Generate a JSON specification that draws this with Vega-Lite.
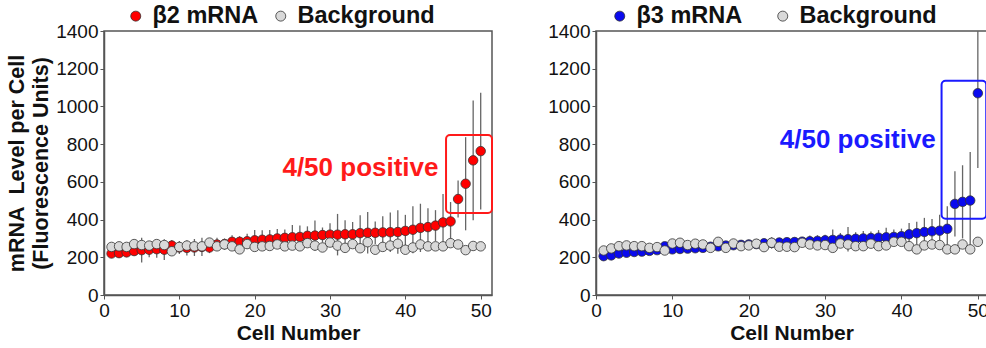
{
  "$schema": "https://vega.github.io/schema/vega-lite/v6.json",
  "padding": {"left": 5, "top": 3, "right": 0, "bottom": 0},
  "spacing": 52,
  "config": {
    "font": "Liberation Sans",
    "view": {"stroke": "#555", "strokeWidth": 1.5},
    "axis": {"grid": false, "domainColor": "#555", "domainWidth": 1.5, "tickColor": "#555", "tickSize": 4, "labelFontSize": 19, "labelColor": "#111", "labelPadding": 2, "labelOverlap": false, "labelFlush": false, "titleFontSize": 21, "titleFontWeight": "bold", "titleColor": "#111"},
    "axisY": {"tickCount": 7, "labelOverlap": false, "format": "d"},
    "legend": {"labelFontSize": 23.5, "labelFontWeight": "bold", "labelColor": "#111", "symbolSize": 100, "symbolStrokeColor": "#333", "symbolStrokeWidth": 0.8, "labelOffset": 5, "padding": 0}
  },
  "resolve": {"scale": {"fill": "independent"}, "legend": {"fill": "independent"}},
  "datasets": {
    "b2": [
      {"cell":1,"series":"β2 mRNA","value":220,"lo":200,"hi":240},
      {"cell":2,"series":"β2 mRNA","value":222,"lo":197,"hi":247},
      {"cell":3,"series":"β2 mRNA","value":226,"lo":206,"hi":246},
      {"cell":4,"series":"β2 mRNA","value":233,"lo":208,"hi":258},
      {"cell":5,"series":"β2 mRNA","value":238,"lo":173,"hi":303},
      {"cell":6,"series":"β2 mRNA","value":240,"lo":200,"hi":280},
      {"cell":7,"series":"β2 mRNA","value":243,"lo":198,"hi":288},
      {"cell":8,"series":"β2 mRNA","value":240,"lo":185,"hi":295},
      {"cell":9,"series":"β2 mRNA","value":262,"lo":232,"hi":292},
      {"cell":10,"series":"β2 mRNA","value":252,"lo":217,"hi":287},
      {"cell":11,"series":"β2 mRNA","value":250,"lo":210,"hi":290},
      {"cell":12,"series":"β2 mRNA","value":252,"lo":207,"hi":297},
      {"cell":13,"series":"β2 mRNA","value":255,"lo":207,"hi":303},
      {"cell":14,"series":"β2 mRNA","value":252,"lo":222,"hi":282},
      {"cell":15,"series":"β2 mRNA","value":268,"lo":233,"hi":303},
      {"cell":16,"series":"β2 mRNA","value":270,"lo":240,"hi":300},
      {"cell":17,"series":"β2 mRNA","value":282,"lo":247,"hi":317},
      {"cell":18,"series":"β2 mRNA","value":282,"lo":252,"hi":312},
      {"cell":19,"series":"β2 mRNA","value":285,"lo":245,"hi":325},
      {"cell":20,"series":"β2 mRNA","value":290,"lo":235,"hi":345},
      {"cell":21,"series":"β2 mRNA","value":293,"lo":243,"hi":343},
      {"cell":22,"series":"β2 mRNA","value":295,"lo":245,"hi":345},
      {"cell":23,"series":"β2 mRNA","value":300,"lo":250,"hi":350},
      {"cell":24,"series":"β2 mRNA","value":303,"lo":258,"hi":348},
      {"cell":25,"series":"β2 mRNA","value":306,"lo":241,"hi":371},
      {"cell":26,"series":"β2 mRNA","value":308,"lo":248,"hi":368},
      {"cell":27,"series":"β2 mRNA","value":314,"lo":264,"hi":364},
      {"cell":28,"series":"β2 mRNA","value":315,"lo":235,"hi":395},
      {"cell":29,"series":"β2 mRNA","value":318,"lo":278,"hi":358},
      {"cell":30,"series":"β2 mRNA","value":320,"lo":260,"hi":380},
      {"cell":31,"series":"β2 mRNA","value":320,"lo":210,"hi":430},
      {"cell":32,"series":"β2 mRNA","value":322,"lo":247,"hi":397},
      {"cell":33,"series":"β2 mRNA","value":322,"lo":257,"hi":387},
      {"cell":34,"series":"β2 mRNA","value":328,"lo":233,"hi":423},
      {"cell":35,"series":"β2 mRNA","value":330,"lo":220,"hi":440},
      {"cell":36,"series":"β2 mRNA","value":330,"lo":270,"hi":390},
      {"cell":37,"series":"β2 mRNA","value":332,"lo":247,"hi":417},
      {"cell":38,"series":"β2 mRNA","value":333,"lo":228,"hi":438},
      {"cell":39,"series":"β2 mRNA","value":334,"lo":219,"hi":449},
      {"cell":40,"series":"β2 mRNA","value":340,"lo":255,"hi":425},
      {"cell":41,"series":"β2 mRNA","value":346,"lo":221,"hi":471},
      {"cell":42,"series":"β2 mRNA","value":356,"lo":228,"hi":484},
      {"cell":43,"series":"β2 mRNA","value":360,"lo":260,"hi":460},
      {"cell":44,"series":"β2 mRNA","value":368,"lo":286,"hi":450},
      {"cell":45,"series":"β2 mRNA","value":385,"lo":235,"hi":535},
      {"cell":46,"series":"β2 mRNA","value":390,"lo":287,"hi":493},
      {"cell":47,"series":"β2 mRNA","value":509,"lo":411,"hi":607},
      {"cell":48,"series":"β2 mRNA","value":590,"lo":343,"hi":837},
      {"cell":49,"series":"β2 mRNA","value":714,"lo":396,"hi":1032},
      {"cell":50,"series":"β2 mRNA","value":763,"lo":454,"hi":1072},
      {"cell":1,"series":"Background","value":255},
      {"cell":2,"series":"Background","value":258},
      {"cell":3,"series":"Background","value":255},
      {"cell":4,"series":"Background","value":270},
      {"cell":5,"series":"Background","value":265},
      {"cell":6,"series":"Background","value":262},
      {"cell":7,"series":"Background","value":270},
      {"cell":8,"series":"Background","value":265},
      {"cell":9,"series":"Background","value":232},
      {"cell":10,"series":"Background","value":255},
      {"cell":11,"series":"Background","value":262},
      {"cell":12,"series":"Background","value":258},
      {"cell":13,"series":"Background","value":258},
      {"cell":14,"series":"Background","value":278},
      {"cell":15,"series":"Background","value":258},
      {"cell":16,"series":"Background","value":268},
      {"cell":17,"series":"Background","value":258},
      {"cell":18,"series":"Background","value":242},
      {"cell":19,"series":"Background","value":270},
      {"cell":20,"series":"Background","value":255},
      {"cell":21,"series":"Background","value":258},
      {"cell":22,"series":"Background","value":260},
      {"cell":23,"series":"Background","value":268},
      {"cell":24,"series":"Background","value":258},
      {"cell":25,"series":"Background","value":262},
      {"cell":26,"series":"Background","value":258},
      {"cell":27,"series":"Background","value":275},
      {"cell":28,"series":"Background","value":262},
      {"cell":29,"series":"Background","value":252},
      {"cell":30,"series":"Background","value":278},
      {"cell":31,"series":"Background","value":262},
      {"cell":32,"series":"Background","value":250},
      {"cell":33,"series":"Background","value":270},
      {"cell":34,"series":"Background","value":248},
      {"cell":35,"series":"Background","value":280},
      {"cell":36,"series":"Background","value":240},
      {"cell":37,"series":"Background","value":255},
      {"cell":38,"series":"Background","value":262},
      {"cell":39,"series":"Background","value":272},
      {"cell":40,"series":"Background","value":240},
      {"cell":41,"series":"Background","value":252},
      {"cell":42,"series":"Background","value":268},
      {"cell":43,"series":"Background","value":258},
      {"cell":44,"series":"Background","value":258},
      {"cell":45,"series":"Background","value":258},
      {"cell":46,"series":"Background","value":275},
      {"cell":47,"series":"Background","value":268},
      {"cell":48,"series":"Background","value":238},
      {"cell":49,"series":"Background","value":260},
      {"cell":50,"series":"Background","value":258}
    ],
    "b3": [
      {"cell":1,"series":"β3 mRNA","value":206,"lo":191,"hi":221},
      {"cell":2,"series":"β3 mRNA","value":210,"lo":195,"hi":225},
      {"cell":3,"series":"β3 mRNA","value":220,"lo":205,"hi":235},
      {"cell":4,"series":"β3 mRNA","value":224,"lo":209,"hi":239},
      {"cell":5,"series":"β3 mRNA","value":228,"lo":208,"hi":248},
      {"cell":6,"series":"β3 mRNA","value":230,"lo":210,"hi":250},
      {"cell":7,"series":"β3 mRNA","value":234,"lo":214,"hi":254},
      {"cell":8,"series":"β3 mRNA","value":238,"lo":218,"hi":258},
      {"cell":9,"series":"β3 mRNA","value":258,"lo":238,"hi":278},
      {"cell":10,"series":"β3 mRNA","value":242,"lo":222,"hi":262},
      {"cell":11,"series":"β3 mRNA","value":244,"lo":224,"hi":264},
      {"cell":12,"series":"β3 mRNA","value":246,"lo":226,"hi":266},
      {"cell":13,"series":"β3 mRNA","value":248,"lo":228,"hi":268},
      {"cell":14,"series":"β3 mRNA","value":250,"lo":230,"hi":270},
      {"cell":15,"series":"β3 mRNA","value":256,"lo":236,"hi":276},
      {"cell":16,"series":"β3 mRNA","value":258,"lo":238,"hi":278},
      {"cell":17,"series":"β3 mRNA","value":262,"lo":242,"hi":282},
      {"cell":18,"series":"β3 mRNA","value":264,"lo":239,"hi":289},
      {"cell":19,"series":"β3 mRNA","value":266,"lo":246,"hi":286},
      {"cell":20,"series":"β3 mRNA","value":268,"lo":243,"hi":293},
      {"cell":21,"series":"β3 mRNA","value":270,"lo":245,"hi":295},
      {"cell":22,"series":"β3 mRNA","value":274,"lo":249,"hi":299},
      {"cell":23,"series":"β3 mRNA","value":276,"lo":246,"hi":306},
      {"cell":24,"series":"β3 mRNA","value":278,"lo":253,"hi":303},
      {"cell":25,"series":"β3 mRNA","value":280,"lo":255,"hi":305},
      {"cell":26,"series":"β3 mRNA","value":281,"lo":256,"hi":306},
      {"cell":27,"series":"β3 mRNA","value":283,"lo":258,"hi":308},
      {"cell":28,"series":"β3 mRNA","value":285,"lo":255,"hi":315},
      {"cell":29,"series":"β3 mRNA","value":287,"lo":257,"hi":317},
      {"cell":30,"series":"β3 mRNA","value":290,"lo":260,"hi":320},
      {"cell":31,"series":"β3 mRNA","value":292,"lo":237,"hi":347},
      {"cell":32,"series":"β3 mRNA","value":294,"lo":259,"hi":329},
      {"cell":33,"series":"β3 mRNA","value":296,"lo":231,"hi":361},
      {"cell":34,"series":"β3 mRNA","value":298,"lo":263,"hi":333},
      {"cell":35,"series":"β3 mRNA","value":300,"lo":260,"hi":340},
      {"cell":36,"series":"β3 mRNA","value":302,"lo":267,"hi":337},
      {"cell":37,"series":"β3 mRNA","value":304,"lo":264,"hi":344},
      {"cell":38,"series":"β3 mRNA","value":306,"lo":256,"hi":356},
      {"cell":39,"series":"β3 mRNA","value":308,"lo":268,"hi":348},
      {"cell":40,"series":"β3 mRNA","value":312,"lo":272,"hi":352},
      {"cell":41,"series":"β3 mRNA","value":322,"lo":262,"hi":382},
      {"cell":42,"series":"β3 mRNA","value":328,"lo":268,"hi":388},
      {"cell":43,"series":"β3 mRNA","value":334,"lo":259,"hi":409},
      {"cell":44,"series":"β3 mRNA","value":338,"lo":273,"hi":403},
      {"cell":45,"series":"β3 mRNA","value":341,"lo":256,"hi":426},
      {"cell":46,"series":"β3 mRNA","value":351,"lo":231,"hi":471},
      {"cell":47,"series":"β3 mRNA","value":483,"lo":310,"hi":656},
      {"cell":48,"series":"β3 mRNA","value":494,"lo":300,"hi":688},
      {"cell":49,"series":"β3 mRNA","value":501,"lo":244,"hi":758},
      {"cell":50,"series":"β3 mRNA","value":1070,"lo":673,"hi":1467},
      {"cell":1,"series":"Background","value":236},
      {"cell":2,"series":"Background","value":247},
      {"cell":3,"series":"Background","value":259},
      {"cell":4,"series":"Background","value":263},
      {"cell":5,"series":"Background","value":259},
      {"cell":6,"series":"Background","value":259},
      {"cell":7,"series":"Background","value":250},
      {"cell":8,"series":"Background","value":254},
      {"cell":9,"series":"Background","value":236},
      {"cell":10,"series":"Background","value":273},
      {"cell":11,"series":"Background","value":277},
      {"cell":12,"series":"Background","value":265},
      {"cell":13,"series":"Background","value":272},
      {"cell":14,"series":"Background","value":268},
      {"cell":15,"series":"Background","value":250},
      {"cell":16,"series":"Background","value":282},
      {"cell":17,"series":"Background","value":250},
      {"cell":18,"series":"Background","value":273},
      {"cell":19,"series":"Background","value":259},
      {"cell":20,"series":"Background","value":263},
      {"cell":21,"series":"Background","value":272},
      {"cell":22,"series":"Background","value":254},
      {"cell":23,"series":"Background","value":277},
      {"cell":24,"series":"Background","value":256},
      {"cell":25,"series":"Background","value":256},
      {"cell":26,"series":"Background","value":254},
      {"cell":27,"series":"Background","value":277},
      {"cell":28,"series":"Background","value":268},
      {"cell":29,"series":"Background","value":263},
      {"cell":30,"series":"Background","value":265},
      {"cell":31,"series":"Background","value":250},
      {"cell":32,"series":"Background","value":273},
      {"cell":33,"series":"Background","value":268},
      {"cell":34,"series":"Background","value":259},
      {"cell":35,"series":"Background","value":259},
      {"cell":36,"series":"Background","value":272},
      {"cell":37,"series":"Background","value":259},
      {"cell":38,"series":"Background","value":263},
      {"cell":39,"series":"Background","value":282},
      {"cell":40,"series":"Background","value":282},
      {"cell":41,"series":"Background","value":259},
      {"cell":42,"series":"Background","value":242},
      {"cell":43,"series":"Background","value":263},
      {"cell":44,"series":"Background","value":268},
      {"cell":45,"series":"Background","value":265},
      {"cell":46,"series":"Background","value":242},
      {"cell":47,"series":"Background","value":242},
      {"cell":48,"series":"Background","value":268},
      {"cell":49,"series":"Background","value":242},
      {"cell":50,"series":"Background","value":282}
    ]
  },
  "hconcat": [
    {
      "width": 388,
      "height": 264,
      "data": {"name": "b2"},
      "layer": [
        {
          "transform": [{"filter": {"field": "series", "equal": "β2 mRNA"}}],
          "mark": {"type": "rule", "color": "#666", "strokeWidth": 1.3, "clip": true},
          "encoding": {
            "x": {"field": "cell", "type": "quantitative", "scale": {"domain": [0, 51.5], "nice": false}, "axis": {"values": [0, 10, 20, 30, 40, 50], "format": "d", "title": "Cell Number", "titlePadding": 2}},
            "y": {"field": "lo", "type": "quantitative", "scale": {"domain": [0, 1400], "nice": false}, "axis": {"title": ["mRNA\u00a0 Level per Cell", "(Fluorescence Units)"], "titleFontSize": 21.5, "titleLineHeight": 24, "titlePadding": 3}},
            "y2": {"field": "hi"}
          }
        },
        {
          "mark": {"type": "point", "filled": true, "opacity": 1, "stroke": "#333", "strokeWidth": 0.8, "size": 90},
          "encoding": {
            "x": {"field": "cell", "type": "quantitative", "scale": {"domain": [0, 51.5], "nice": false}, "axis": {"values": [0, 10, 20, 30, 40, 50], "format": "d", "title": "Cell Number", "titlePadding": 2}},
            "y": {"field": "value", "type": "quantitative", "scale": {"domain": [0, 1400], "nice": false}, "axis": {"title": ["mRNA\u00a0 Level per Cell", "(Fluorescence Units)"], "titleFontSize": 21.5, "titleLineHeight": 24, "titlePadding": 3}},
            "fill": {"field": "series", "type": "nominal", "sort": null, "scale": {"domain": ["β2 mRNA", "Background"], "range": ["#ff0000", "#d9d9d9"]}, "legend": {"title": null, "orient": "none", "direction": "horizontal", "legendX": 20, "legendY": -27, "columnPadding": 10}}
          }
        },
        {
          "data": {"values": [{}]},
          "mark": {"type": "rect", "fill": "transparent", "stroke": "#ff1a1a", "strokeWidth": 2, "cornerRadius": 4},
          "encoding": {
            "x": {"datum": 45.4, "type": "quantitative"},
            "x2": {"datum": 51.5},
            "y": {"datum": 435, "type": "quantitative"},
            "y2": {"datum": 848}
          }
        },
        {
          "data": {"values": [{}]},
          "mark": {"type": "text", "text": "4/50 positive", "color": "#ff1a1a", "fontSize": 26, "fontWeight": "bold", "align": "right", "baseline": "middle"},
          "encoding": {
            "x": {"datum": 44.4, "type": "quantitative"},
            "y": {"datum": 673, "type": "quantitative"}
          }
        }
      ]
    },
    {
      "width": 391,
      "height": 264,
      "data": {"name": "b3"},
      "layer": [
        {
          "transform": [{"filter": {"field": "series", "equal": "β3 mRNA"}}],
          "mark": {"type": "rule", "color": "#666", "strokeWidth": 1.3, "clip": true},
          "encoding": {
            "x": {"field": "cell", "type": "quantitative", "scale": {"domain": [0, 51.2], "nice": false}, "axis": {"values": [0, 10, 20, 30, 40, 50], "format": "d", "title": "Cell Number", "titlePadding": 2}},
            "y": {"field": "lo", "type": "quantitative", "scale": {"domain": [0, 1400], "nice": false}, "axis": {"title": null}},
            "y2": {"field": "hi"}
          }
        },
        {
          "mark": {"type": "point", "filled": true, "opacity": 1, "stroke": "#333", "strokeWidth": 0.8, "size": 90},
          "encoding": {
            "x": {"field": "cell", "type": "quantitative", "scale": {"domain": [0, 51.2], "nice": false}, "axis": {"values": [0, 10, 20, 30, 40, 50], "format": "d", "title": "Cell Number", "titlePadding": 2}},
            "y": {"field": "value", "type": "quantitative", "scale": {"domain": [0, 1400], "nice": false}, "axis": {"title": null}},
            "fill": {"field": "series", "type": "nominal", "sort": null, "scale": {"domain": ["β3 mRNA", "Background"], "range": ["#0a0aee", "#d9d9d9"]}, "legend": {"title": null, "orient": "none", "direction": "horizontal", "legendX": 12, "legendY": -27, "columnPadding": 28}}
          }
        },
        {
          "data": {"values": [{}]},
          "mark": {"type": "rect", "fill": "transparent", "stroke": "#1a1aff", "strokeWidth": 2, "cornerRadius": 4},
          "encoding": {
            "x": {"datum": 45.25, "type": "quantitative"},
            "x2": {"datum": 51.1},
            "y": {"datum": 404, "type": "quantitative"},
            "y2": {"datum": 1136}
          }
        },
        {
          "data": {"values": [{}]},
          "mark": {"type": "text", "text": "4/50 positive", "color": "#1a1aff", "fontSize": 26, "fontWeight": "bold", "align": "right", "baseline": "middle"},
          "encoding": {
            "x": {"datum": 44.5, "type": "quantitative"},
            "y": {"datum": 822, "type": "quantitative"}
          }
        }
      ]
    }
  ]
}
